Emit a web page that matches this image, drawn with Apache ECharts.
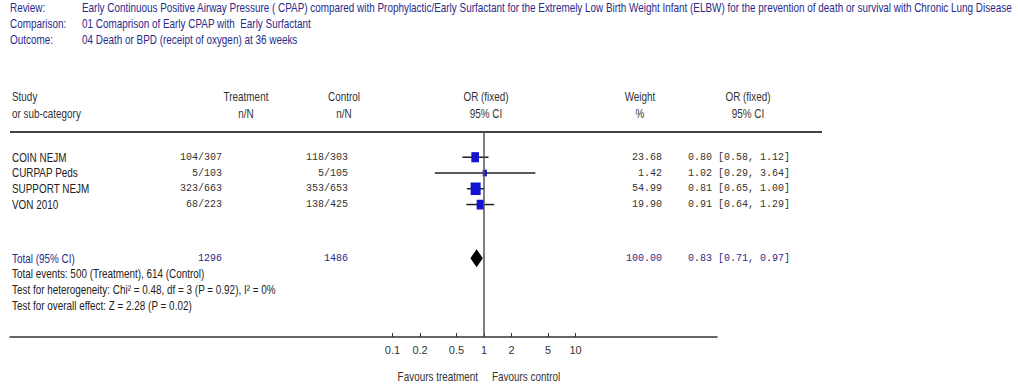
<!DOCTYPE html>
<html>
<head>
<meta charset="utf-8">
<script src="https://cdn.jsdelivr.net/npm/echarts@6/dist/echarts.min.js"></script>
<style>
html,body{margin:0;padding:0;background:#fff;}
#chart{width:1018px;height:386px;}
</style>
</head>
<body>
<div id="chart"></div>
<script>
// ---------- data ----------
const reviewLabels = ['Review:', 'Comparison:', 'Outcome:'];
const reviewTexts = [
  'Early Continuous Positive Airway Pressure ( CPAP) compared with Prophylactic/Early Surfactant for the Extremely Low Birth Weight Infant (ELBW) for the prevention of death or survival with Chronic Lung Disease',
  '01 Comaprison of Early CPAP with  Early Surfactant',
  '04 Death or BPD (receipt of oxygen) at 36 weeks'
];
const headerRow1 = ['Study', 'Treatment', 'Control', 'OR (fixed)', 'Weight', 'OR (fixed)'];
const headerRow2 = ['or sub-category', 'n/N', 'n/N', '95% CI', '%', '95% CI'];
const studies = ['COIN NEJM', 'CURPAP Peds', 'SUPPORT NEJM', 'VON 2010'];
const treatmentNN = ['104/307', '5/103', '323/663', '68/223'];
const controlNN = ['118/303', '5/105', '353/653', '138/425'];
const oddsRatios = [0.80, 1.02, 0.81, 0.91];
const ciLower = [0.58, 0.29, 0.65, 0.64];
const ciUpper = [1.12, 3.64, 1.00, 1.29];
const weights = [23.68, 1.42, 54.99, 19.90];
const totalLabel = 'Total (95% CI)';
const totalTreatment = '1296';
const totalControl = '1486';
const totalWeight = 100.00;
const totalOR = 0.83;
const totalLower = 0.71;
const totalUpper = 0.97;
const footnotes = [
  'Total events: 500 (Treatment), 614 (Control)',
  'Test for heterogeneity: Chi\u00b2 = 0.48, df = 3 (P = 0.92), I\u00b2 = 0%',
  'Test for overall effect: Z = 2.28 (P = 0.02)'
];
const tickValues = [0.1, 0.2, 0.5, 1, 2, 5, 10];
const favoursLabels = ['Favours treatment', 'Favours control'];

// ---------- layout ----------
const SANS = "'Liberation Sans',Arial,sans-serif";
const SANS_FONT = '12px ' + SANS;
const MONO = "'Liberation Mono','Courier New',monospace";
const NAVY = '#2a2a8a';
const FIRST_ROW = 1.6, TOTAL_ROW = 8.0, Y_MAX = 13;
const X_MIN = -5.18, X_MAX = 2.546;
const TITLE_WIDTH = 931;
const fmt = (v) => v.toFixed(2);
const ciText = (o, l, u) => fmt(o) + ' [' + fmt(l) + ', ' + fmt(u) + ']';

// horizontal condensing factor so the long review line fits like the narrow original font
const ctx = document.createElement('canvas').getContext('2d');
ctx.font = SANS_FONT;
const NARROW_SCALE = Math.min(1, TITLE_WIDTH / ctx.measureText(reviewTexts[0]).width);

const chart = echarts.init(document.getElementById('chart'), null, {renderer: 'svg'});

const studyData = studies.map((s, i) => [
  Math.log10(oddsRatios[i]), Math.log10(ciLower[i]), Math.log10(ciUpper[i]), i + FIRST_ROW, weights[i]
]);

chart.setOption({
  animation: false,
  backgroundColor: '#fff',
  grid: {left: 10, right: 301, top: 132, bottom: 49, containLabel: false},
  xAxis: {
    type: 'value', min: X_MIN, max: X_MAX,
    axisLine: {show: true, onZero: false, lineStyle: {color: '#333', width: 1.5}},
    axisTick: {show: true, inside: true, length: 4, customValues: tickValues.map(Math.log10), lineStyle: {color: '#333'}},
    axisLabel: {
      customValues: tickValues.map(Math.log10),
      formatter: (v) => String(+Math.pow(10, v).toPrecision(2)),
      fontFamily: SANS, fontSize: 11, color: '#333', margin: 7
    },
    splitLine: {show: false}
  },
  yAxis: {type: 'value', inverse: true, min: 0, max: Y_MAX, show: false},
  series: [
    {
      type: 'custom', silent: true,
      encode: {x: [0, 1, 2], y: 3},
      data: studyData,
      renderItem: (params, api) => {
        const y = api.value(3);
        const p = api.coord([api.value(0), y]);
        const lo = api.coord([api.value(1), y]);
        const hi = api.coord([api.value(2), y]);
        const w = 3 + 0.95 * Math.sqrt(api.value(4));
        const h = w + 2.5;
        return {type: 'group', children: [
          {type: 'line', shape: {x1: lo[0], y1: lo[1], x2: hi[0], y2: hi[1]}, style: {stroke: '#222', lineWidth: 1.5}},
          {type: 'rect', shape: {x: p[0] - w / 2, y: p[1] - h / 2, width: w, height: h}, style: {fill: '#1212d0'}}
        ]};
      },
      markLine: {
        silent: true, symbol: 'none', label: {show: false},
        lineStyle: {color: '#555', width: 1.5, type: 'solid'},
        data: [{xAxis: 0}]
      }
    },
    {
      type: 'custom', silent: true,
      encode: {x: [0, 1, 2], y: 3},
      data: [[Math.log10(totalOR), Math.log10(totalLower), Math.log10(totalUpper), TOTAL_ROW]],
      renderItem: (params, api) => {
        const y = api.value(3);
        const p = api.coord([api.value(0), y]);
        const lo = api.coord([api.value(1), y]);
        const hi = api.coord([api.value(2), y]);
        const h = 9;
        return {type: 'polygon', shape: {points: [[lo[0], p[1]], [p[0], p[1] - h], [hi[0], p[1]], [p[0], p[1] + h]]}, style: {fill: '#000'}};
      }
    }
  ]
});

// ---------- table text ----------
const yPix = (v) => chart.convertToPixel({yAxisIndex: 0}, v);
const txt = (text, x, y, opt) => ({
  type: 'text', x: x, y: y, silent: true, scaleX: NARROW_SCALE,
  style: Object.assign({text: text, x: 0, y: 0, font: SANS_FONT, fill: '#222', align: 'left', verticalAlign: 'middle'}, opt || {})
});
const mono = (text, x, y, opt) => ({
  type: 'text', x: x, y: y, silent: true,
  style: Object.assign({text: text, x: 0, y: 0, font: '10px ' + MONO, fill: '#333', align: 'right', verticalAlign: 'middle'}, opt || {})
});
const g = [];
reviewLabels.forEach((l, i) => {
  g.push(txt(l, 10, 8 + i * 16, {fill: NAVY}));
  g.push(txt(reviewTexts[i], 82, 8 + i * 16, {fill: NAVY}));
});
const headerX = [12, 246, 344, 486, 640, 748];
headerRow1.forEach((h, i) => {
  const al = i === 0 ? 'left' : 'center';
  g.push(txt(h, headerX[i], 97, {align: al, fill: '#333'}));
  g.push(txt(headerRow2[i], headerX[i], 114, {align: al, fill: '#333'}));
});
g.push({type: 'line', silent: true, shape: {x1: 10, y1: 132, x2: 822, y2: 132}, style: {stroke: '#444', lineWidth: 2}});
studies.forEach((s, i) => {
  const y = yPix(i + FIRST_ROW);
  g.push(txt(s, 12, y));
  g.push(mono(treatmentNN[i], 222, y));
  g.push(mono(controlNN[i], 348, y));
  g.push(mono(fmt(weights[i]), 662, y));
  g.push(mono(ciText(oddsRatios[i], ciLower[i], ciUpper[i]), 688, y, {align: 'left'}));
});
const ty = yPix(TOTAL_ROW);
g.push(txt(totalLabel, 12, ty, {fill: NAVY}));
g.push(mono(totalTreatment, 222, ty, {fill: NAVY}));
g.push(mono(totalControl, 348, ty, {fill: NAVY}));
g.push(mono(fmt(totalWeight), 662, ty, {fill: NAVY}));
g.push(mono(ciText(totalOR, totalLower, totalUpper), 688, ty, {fill: NAVY, align: 'left'}));
footnotes.forEach((f, i) => {
  g.push(txt(f, 12, yPix(TOTAL_ROW + 1 + i)));
});
const oneX = chart.convertToPixel({xAxisIndex: 0}, 0);
g.push(txt(favoursLabels[0], oneX - 6, 377, {align: 'right', fill: '#333'}));
g.push(txt(favoursLabels[1], oneX + 8, 377, {align: 'left', fill: '#333'}));
chart.setOption({graphic: {elements: g}});
</script>
</body>
</html>
